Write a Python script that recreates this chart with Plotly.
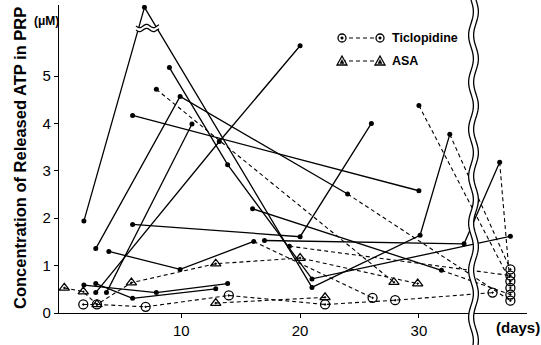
import numpy as np
import plotly.graph_objects as go

FONT = "Liberation Sans, Arial, Helvetica, sans-serif"

# ---------------- data: (day, released ATP in µM) ----------------
# individual subjects (filled dots, solid lines; last part dashed)
s01_days = [1.8, 6.9, 21.0, 30.1, 32.6, 37.7]
s01_vals = [1.94, 6.45, 0.54, 1.64, 3.77, 0.92]
s02_days = [9.0, 13.9, 21.0, 37.7]
s02_vals = [5.18, 3.13, 0.72, 1.62]
s03_days = [2.8, 9.9, 24.0, 37.7]
s03_vals = [1.36, 4.57, 2.51, 0.26]
s04_days = [3.7, 10.9]
s04_vals = [0.43, 3.99]
s05_days = [2.8, 13.2, 20.0]
s05_vals = [0.43, 3.62, 5.64]
s06_days = [5.9, 30.0]
s06_vals = [4.17, 2.58]
s07_days = [16.0, 31.9, 37.7]
s07_vals = [2.20, 0.90, 0.39]
s08_days = [5.9, 20.0, 26.0]
s08_vals = [1.87, 1.61, 4.00]
s09_days = [3.9, 9.9, 16.1, 26.1]
s09_vals = [1.30, 0.92, 1.51, 0.32]
s10_days = [17.0, 33.8, 36.8, 37.7]
s10_vals = [1.53, 1.46, 3.18, 0.53]
s11_days = [30.0, 37.7]
s11_vals = [4.38, 0.67]
s12_days = [7.9, 27.9]
s12_vals = [4.72, 0.65]
s13_days = [1.8, 7.9, 13.9]
s13_vals = [0.59, 0.43, 0.62]
s14_days = [2.8, 5.9, 12.9]
s14_vals = [0.62, 0.31, 0.51]
s15_days = [19.1, 37.7]
s15_vals = [1.41, 0.79]

# ASA group (triangles, dashed)
asa1_days = [0.15, 1.75, 2.9, 5.8, 12.9, 20.0, 29.9]
asa1_vals = [0.53, 0.45, 0.18, 0.64, 1.04, 1.16, 0.62]
asa2_days = [12.9, 22.1]
asa2_vals = [0.21, 0.33]

# Ticlopidine group (double circles, dashed)
tic_days = [1.75, 2.9, 7.0, 14.0, 22.1, 28.0, 36.2]
tic_vals = [0.18, 0.18, 0.13, 0.37, 0.18, 0.27, 0.43]

y_ticks = [0, 1, 2, 3, 4, 5]
x_ticks = [10, 20, 30]

# ---------------- styling ----------------
DOT = dict(symbol="circle", size=5, color="black")
TIC = dict(symbol="circle-open-dot", size=9, color="black", line=dict(width=1.3))
ASA = dict(symbol="triangle-up-open-dot", size=9, color="black", line=dict(width=1.3))
LW = 1.3
DASH = "4px,3px"

# (days, vals, number of points joined by solid line, symbol of final point)
subjects = [
    (s01_days, s01_vals, 5, "tic"),
    (s02_days, s02_vals, 4, "dot"),
    (s03_days, s03_vals, 3, "tic"),
    (s04_days, s04_vals, 2, "dot"),
    (s05_days, s05_vals, 3, "dot"),
    (s06_days, s06_vals, 2, "dot"),
    (s07_days, s07_vals, 2, "tic"),
    (s08_days, s08_vals, 3, "dot"),
    (s09_days, s09_vals, 3, "tic"),
    (s10_days, s10_vals, 3, "tic"),
    (s11_days, s11_vals, 1, "tic"),
    (s12_days, s12_vals, 1, "asa"),
    (s13_days, s13_vals, 3, "dot"),
    (s14_days, s14_vals, 3, "dot"),
    (s15_days, s15_vals, 1, "tic"),
]

fig = go.Figure()
end_markers = {"tic": TIC, "asa": ASA, "dot": DOT}

for days, vals, n_solid, end_sym in subjects:
    if n_solid >= 2:
        fig.add_trace(go.Scatter(x=days[:n_solid], y=vals[:n_solid], mode="lines",
                                 line=dict(color="black", width=LW), hoverinfo="skip"))
    if n_solid < len(days):
        fig.add_trace(go.Scatter(x=days[n_solid - 1:], y=vals[n_solid - 1:], mode="lines",
                                 line=dict(color="black", width=1.1, dash=DASH), hoverinfo="skip"))

for days, vals, mk in [(asa1_days, asa1_vals, ASA), (asa2_days, asa2_vals, ASA), (tic_days, tic_vals, TIC)]:
    fig.add_trace(go.Scatter(x=days, y=vals, mode="lines+markers",
                             line=dict(color="black", width=1.1, dash=DASH),
                             marker=mk, hoverinfo="skip"))

for days, vals, n_solid, end_sym in subjects:
    nd = len(days) if end_sym == "dot" else len(days) - 1
    fig.add_trace(go.Scatter(x=days[:nd], y=vals[:nd], mode="markers", marker=DOT, hoverinfo="skip"))
    if end_sym != "dot":
        fig.add_trace(go.Scatter(x=days[-1:], y=vals[-1:], mode="markers",
                                 marker=end_markers[end_sym], hoverinfo="skip"))

# ---------------- geometry helpers (pixel -> paper) ----------------
W, H = 541, 345
L, R, T, B = 59, 14, 5, 32
PW, PH = W - L - R, H - T - B


def px(x):
    return (x - L) / PW


def py(y):
    return (H - B - y) / PH


def path_from(points):
    return "M " + " L ".join(f"{px(a):.5f},{py(b):.5f}" for a, b in points)


shapes = []
# vertical axis break (double wavy line)
ys = np.linspace(0, 345, 120)
xl = 471 + 2.4 * np.sin(ys / 47 * 2 * np.pi)
xr = xl + 5
band = list(zip(xl, ys)) + list(zip(xr[::-1], ys[::-1]))
shapes.append(dict(type="path", xref="paper", yref="paper", path=path_from(band) + " Z",
                   fillcolor="white", line=dict(width=0), layer="above"))
for xx in (xl, xr):
    shapes.append(dict(type="path", xref="paper", yref="paper", path=path_from(zip(xx, ys)),
                       line=dict(color="black", width=1.3), layer="above"))

# break on the peak (horizontal double wavy line)
xs = np.linspace(136, 159, 40)
yt = 26 + 1.6 * np.sin((xs - 136) / 14 * 2 * np.pi)
yb = yt + 4
band2 = list(zip(xs, yt)) + list(zip(xs[::-1], yb[::-1]))
shapes.append(dict(type="path", xref="paper", yref="paper", path=path_from(band2) + " Z",
                   fillcolor="white", line=dict(width=0), layer="above"))
for yy in (yt, yb):
    shapes.append(dict(type="path", xref="paper", yref="paper", path=path_from(zip(xs, yy)),
                       line=dict(color="black", width=1.3), layer="above"))

# legend samples
for yl, kind in ((38, "tic"), (61, "asa")):
    shapes.append(dict(type="line", xref="paper", yref="paper", x0=px(342), x1=px(380),
                       y0=py(yl), y1=py(yl), line=dict(color="black", width=1.1, dash=DASH)))
    for cx in (342, 380):
        if kind == "tic":
            shapes.append(dict(type="circle", xref="paper", yref="paper",
                               x0=px(cx - 4), x1=px(cx + 4), y0=py(yl + 4), y1=py(yl - 4),
                               fillcolor="white", line=dict(color="black", width=1.3)))
            shapes.append(dict(type="circle", xref="paper", yref="paper",
                               x0=px(cx - 1.3), x1=px(cx + 1.3), y0=py(yl + 1.3), y1=py(yl - 1.3),
                               fillcolor="black", line=dict(color="black", width=0.5)))
        else:
            shapes.append(dict(type="path", xref="paper", yref="paper",
                               path=path_from([(cx - 5, yl + 4), (cx + 5, yl + 4), (cx, yl - 5)]) + " Z",
                               fillcolor="white", line=dict(color="black", width=1.3)))
            shapes.append(dict(type="path", xref="paper", yref="paper",
                               path=path_from([(cx - 2, yl + 2.5), (cx + 2, yl + 2.5), (cx, yl - 1.5)]) + " Z",
                               fillcolor="black", line=dict(color="black", width=0.5)))

annotations = [
    dict(text="<b>Concentration of Released ATP in PRP</b>", textangle=-90, xref="paper", yref="paper",
         x=px(20), y=py(158), showarrow=False, font=dict(family=FONT, size=16.5, color="black"),
         xanchor="center", yanchor="middle"),
    dict(text="<b>(μM)</b>", xref="paper", yref="paper", x=px(46), y=py(21), showarrow=False,
         font=dict(family=FONT, size=12, color="black"), xanchor="center", yanchor="middle"),
    dict(text="<b>(days)</b>", xref="paper", yref="paper", x=px(518), y=py(327), showarrow=False,
         font=dict(family=FONT, size=15, color="black"), xanchor="center", yanchor="middle"),
    dict(text="<b>Ticlopidine</b>", xref="paper", yref="paper", x=px(390), y=py(38), showarrow=False,
         font=dict(family=FONT, size=12.5, color="black"), xanchor="left", yanchor="middle"),
    dict(text="<b>ASA</b>", xref="paper", yref="paper", x=px(390), y=py(61), showarrow=False,
         font=dict(family=FONT, size=12.5, color="black"), xanchor="left", yanchor="middle"),
]

x0 = (L - 62.5) / 11.88
x1 = (W - R - 62.5) / 11.88

fig.update_layout(
    width=W, height=H, margin=dict(l=L, r=R, t=T, b=B),
    paper_bgcolor="white", plot_bgcolor="white", showlegend=False,
    shapes=shapes, annotations=annotations,
    font=dict(family=FONT, size=14, color="black"),
    xaxis=dict(range=[x0, x1], tickvals=x_ticks, ticktext=[str(v) for v in x_ticks],
               showgrid=False, zeroline=False, showline=True, linecolor="black", linewidth=1.3,
               ticks="outside", ticklen=4, tickcolor="black", tickfont=dict(size=15)),
    yaxis=dict(range=[0, 6.5], tickvals=y_ticks, ticktext=[str(v) for v in y_ticks],
               showgrid=False, zeroline=False, showline=True, linecolor="black", linewidth=1.3,
               ticks="outside", ticklen=4, tickcolor="black", tickfont=dict(size=15)),
)

fig.write_html("out.html", config={"displayModeBar": False},
               post_script="document.body.style.margin='0px';document.body.style.overflow='hidden';")
